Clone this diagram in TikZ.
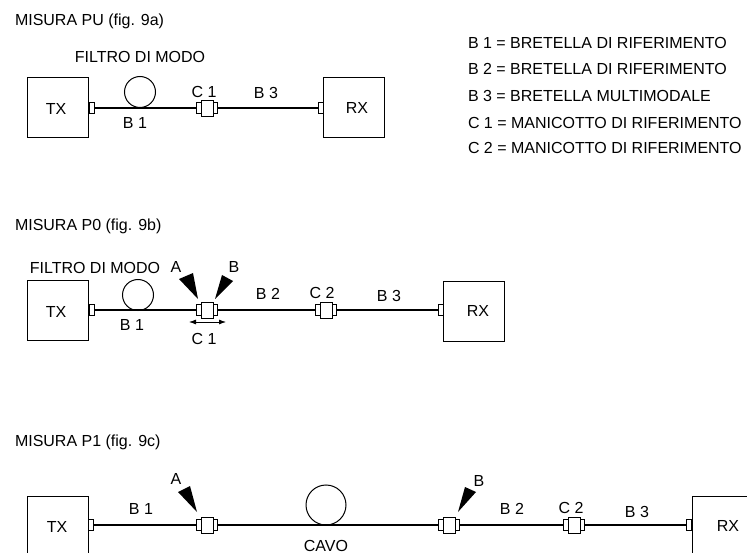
\documentclass[tikz,border=0pt]{standalone}
\usepackage{fontspec}
\setmainfont{Liberation Sans}
\usetikzlibrary{arrows.meta}
\tikzset{
  x=1pt,y=-1pt,
  every node/.style={inner sep=0pt,outer sep=0pt},
  txt/.style={anchor=base,yshift=-5.5pt,font=\fontsize{16}{18}\selectfont},
  leg/.style={anchor=base west,yshift=-5.5pt,font=\fontsize{16}{18}\selectfont},
  unit/.style={draw,line width=0.9pt,minimum width=61pt,minimum height=60pt},
  port/.style={draw,line width=0.8pt,fill=white,minimum width=5pt,minimum height=11pt},
  sleeve/.style={draw,line width=0.8pt,fill=white,minimum width=21pt,minimum height=11pt},
  body/.style={draw,line width=0.9pt,fill=white,minimum width=12pt,minimum height=16pt},
  fibre/.style={line width=1.1pt},
  coil/.style={draw,line width=1pt,fill=white,circle},
  wedge/.style={fill=black,draw=none},
  shift arrow/.style={line width=0.8pt,{Latex[length=7pt,width=5pt]}-{Latex[length=7pt,width=5pt]}}
}
\newcommand{\connector}[3]{%
  \node[sleeve] (#1s) at (#2,#3) {};
  \node[body] (#1) at (#2,#3) {};
}
\begin{document}
\begin{tikzpicture}
\useasboundingbox (0,0) rectangle (747,553);
% titles
\node[leg] (t1) at (15,20) {MISURA PU (fig. 9a)};
\node[leg] (t2) at (15,225) {MISURA P0 (fig. 9b)};
\node[leg] (t3) at (15,441) {MISURA P1 (fig. 9c)};
% legend
\node[leg] (l1) at (468,43) {B 1 = BRETELLA DI RIFERIMENTO};
\node[leg] (l2) at (468,69) {B 2 = BRETELLA DI RIFERIMENTO};
\node[leg] (l3) at (468,96) {B 3 = BRETELLA MULTIMODALE};
\node[leg] (l4) at (468,123) {C 1 = MANICOTTO DI RIFERIMENTO};
\node[leg] (l5) at (468,148) {C 2 = MANICOTTO DI RIFERIMENTO};

% ---- row 1
\node[unit] (tx1) at (58,107) {};
\node[port] (tx1p) at (91.5,108) {};
\node[unit] (rx1) at (353.5,107) {};
\node[port] (rx1p) at (320.5,108) {};
\node[coil,minimum size=31pt] (c1) at (140,92) {};
\connector{a1}{207}{108}
\draw[fibre] (tx1p.east) -- (a1s.west);
\draw[fibre] (a1s.east) -- (rx1p.west);
\node[txt] at (56,109) {TX};
\node[txt] at (357,108) {RX};
\node[txt] at (140,57) {FILTRO DI MODO};
\node[txt] at (135,123) {B 1};
\node[txt] at (204,92) {C 1};
\node[txt] at (266,93) {B 3};

% ---- row 2
\node[unit] (tx2) at (58,310.5) {};
\node[port] (tx2p) at (91.5,310) {};
\node[unit] (rx2) at (473.5,311.5) {};
\node[port] (rx2p) at (440.5,310) {};
\node[coil,minimum size=31pt] (c2) at (138,295) {};
\connector{a2}{207}{310}
\connector{b2}{326}{310}
\draw[fibre] (tx2p.east) -- (a2s.west);
\draw[fibre] (a2s.east) -- (b2s.west);
\draw[fibre] (b2s.east) -- (rx2p.west);
\fill[wedge] (198,299) -- (179,279) -- (193,273) -- cycle;
\fill[wedge] (215,299) -- (222,275) -- (233,281) -- cycle;
\coordinate (m1) at (189,322);
\coordinate (m2) at (226,322);
\draw[shift arrow] (m1) -- (m2);
\node[txt] at (56,312) {TX};
\node[txt] at (478,311) {RX};
\node[txt] at (95,268) {FILTRO DI MODO};
\node[txt] at (176,267) {A};
\node[txt] at (234,267) {B};
\node[txt] at (132,325) {B 1};
\node[txt] at (204,339) {C 1};
\node[txt] at (268,294) {B 2};
\node[txt] at (322,293) {C 2};
\node[txt] at (389,296) {B 3};

% ---- row 3
\node[unit,anchor=north west] (tx3) at (27,496) {};
\node[port] (tx3p) at (91,525) {};
\node[unit,anchor=north west,minimum height=70pt,minimum width=70pt] (rx3) at (692,496) {};
\node[port] (rx3p) at (689,525) {};
\node[coil,minimum size=40pt] (c3) at (326,505) {};
\connector{a3}{207}{525}
\connector{b3}{449}{525}
\connector{d3}{574}{525}
\draw[fibre] (tx3p.east) -- (a3s.west);
\draw[fibre] (a3s.east) -- (b3s.west);
\draw[fibre] (b3s.east) -- (d3s.west);
\draw[fibre] (d3s.east) -- (rx3p.west);
\fill[wedge] (197,512) -- (178,492) -- (190,486) -- cycle;
\fill[wedge] (458,512) -- (465,487) -- (476,492) -- cycle;
\node[txt] at (57,527) {TX};
\node[txt] at (728,526) {RX};
\node[txt] at (141,509) {B 1};
\node[txt] at (176,479) {A};
\node[txt] at (479,481) {B};
\node[txt] at (326,545.5) {CAVO};
\node[txt] at (512,509) {B 2};
\node[txt] at (571,508) {C 2};
\node[txt] at (637,512) {B 3};
\end{tikzpicture}
\end{document}
